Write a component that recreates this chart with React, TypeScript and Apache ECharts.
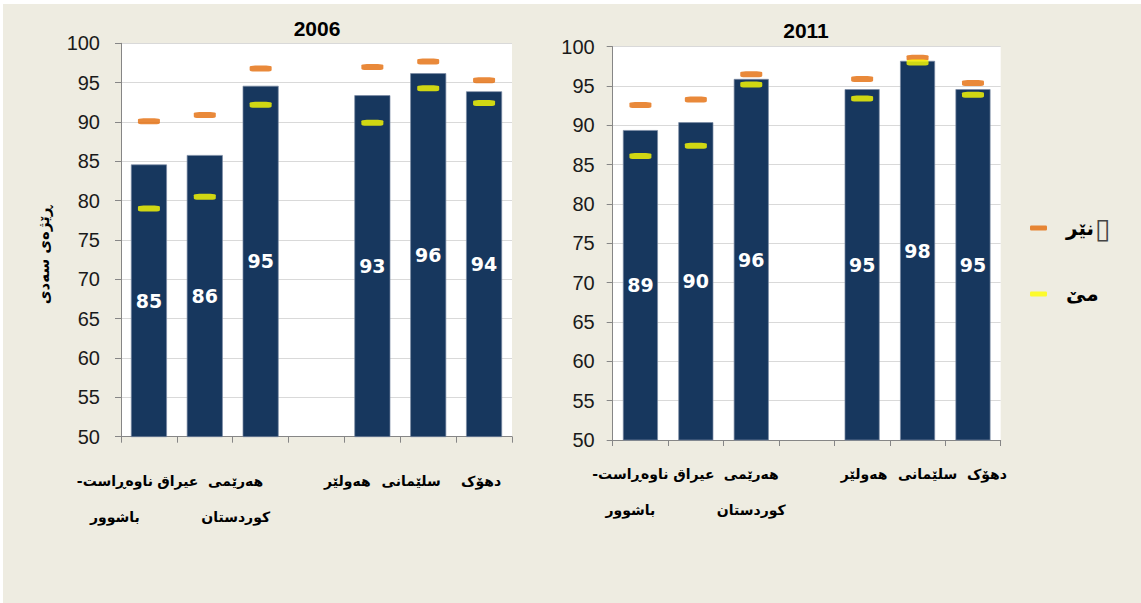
import React, { useEffect, useRef } from 'react';
import * as echarts from 'echarts';

const categories = ['ناوەڕاست-\u200F\nباشوور', 'عیراق', 'هەرێمی\nکوردستان', '', 'هەولێر', 'سلێمانی', 'دهۆک'];
const yearTitles = ['2006', '2011'];
const yAxisName = 'ڕێژەی سەدی';
const maleName = 'نێر▯';
const femaleName = 'مێ';

const total2006 = [84.6, 85.8, 94.6, null, 93.4, 96.2, 93.9];
const male2006 = [90.1, 90.9, 96.8, null, 97.0, 97.7, 95.3];
const female2006 = [79.0, 80.5, 92.2, null, 89.9, 94.3, 92.4];

const total2011 = [89.4, 90.4, 95.9, null, 94.6, 98.2, 94.6];
const male2011 = [92.6, 93.3, 96.5, null, 95.9, 98.6, 95.4];
const female2011 = [86.1, 87.4, 95.2, null, 93.4, 98.0, 93.9];

// horizontal nudges of the category labels (px), as drawn in the reference
const labelShift2006 = [-34, -27, -25, 0, -25, -17, -3];
const labelShift2011 = [-10, -2, 0, 0, 2, 10, 14];

export default function App() {
  const ref = useRef<HTMLDivElement>(null);
  useEffect(() => {
    const chart = echarts.init(ref.current!, null, { renderer: 'svg' });
    const axisColor = '#868686';
    const arabicFont = 'DejaVu Sans';
    const catFont = 14;
    const mkX = (idx: number, margin: number, shifts: number[]) => {
      const rich: Record<string, any> = {};
      shifts.forEach((s, i) => {
        rich['s' + i] = {
          fontFamily: arabicFont,
          fontWeight: 'bold',
          fontSize: catFont,
          lineHeight: 36,
          color: '#000',
          padding: s < 0 ? [0, -2 * s, 0, 0] : [0, 0, 0, 2 * s],
        };
      });
      return {
        type: 'category',
        gridIndex: idx,
        data: categories,
        axisLine: { lineStyle: { color: axisColor } },
        axisTick: { show: true, length: 6, lineStyle: { color: axisColor } },
        axisLabel: {
          interval: 0,
          margin,
          fontFamily: arabicFont,
          fontWeight: 'bold',
          fontSize: catFont,
          lineHeight: 36,
          color: '#000',
          formatter: (value: string, index: number) =>
            value ? value.split('\n').map((l) => `{s${index}|${l}}`).join('\n') : '',
          rich,
        },
      };
    };
    const mkY = (idx: number, margin: number, name: string) => ({
      type: 'value',
      gridIndex: idx,
      min: 50,
      max: 100,
      interval: 5,
      axisLine: { show: true, lineStyle: { color: axisColor } },
      axisTick: { show: true, length: 6, lineStyle: { color: axisColor } },
      splitLine: { lineStyle: { color: '#D9D9D9' } },
      axisLabel: { margin, fontFamily: 'Liberation Sans', fontSize: 20, color: '#1a1a1a' },
      name,
      nameLocation: 'middle',
      nameGap: 70,
      nameRotate: 90,
      nameTextStyle: {
        fontFamily: arabicFont,
        fontWeight: 'bold',
        fontSize: 15,
        color: '#000',
        padding: [0, 30, 0, 0],
      },
    });
    const mkSeries = (
      idx: number,
      total: (number | null)[],
      male: (number | null)[],
      female: (number | null)[],
      bw: number
    ) => [
      {
        type: 'bar',
        xAxisIndex: idx,
        yAxisIndex: idx,
        data: total.map((v) => (v == null ? '-' : v)),
        barWidth: bw,
        itemStyle: { color: '#17375E', borderColor: '#7a8aa3', borderWidth: 0.7 },
        label: {
          show: true,
          position: 'inside',
          formatter: (p: any) => String(Math.round(p.value)),
          color: '#fff',
          fontFamily: 'DejaVu Sans',
          fontWeight: 'bold',
          fontSize: 19,
        },
      },
      {
        type: 'scatter',
        name: maleName,
        xAxisIndex: idx,
        yAxisIndex: idx,
        data: male.map((v) => (v == null ? '-' : v)),
        symbol: 'roundRect',
        symbolSize: [22, 6],
        itemStyle: { color: '#E36C09' },
        z: 3,
      },
      {
        type: 'scatter',
        name: femaleName,
        xAxisIndex: idx,
        yAxisIndex: idx,
        data: female.map((v) => (v == null ? '-' : v)),
        symbol: 'roundRect',
        symbolSize: [22, 6],
        itemStyle: { color: '#FFFF00' },
        z: 4,
      },
    ];
    const titleStyle = { fontFamily: 'Liberation Sans', fontWeight: 'bold', fontSize: 21, color: '#000' };
    const legendText = {
      fontFamily: arabicFont,
      fontWeight: 'bold',
      fontSize: 20,
      lineHeight: 24,
      color: '#000',
    };
    chart.setOption({
      animation: false,
      backgroundColor: '#fff',
      graphic: [
        {
          type: 'rect',
          shape: { x: 3, y: 4, width: 1138, height: 599 },
          style: { fill: '#EEECE1' },
          z: -100,
          silent: true,
        },
      ],
      title: [
        { text: yearTitles[0], left: 312, top: 13, textAlign: 'center', textStyle: titleStyle },
        { text: yearTitles[1], left: 801, top: 15, textAlign: 'center', textStyle: titleStyle },
      ],
      legend: {
        orient: 'vertical',
        left: 1025,
        top: 209,
        itemWidth: 17,
        itemHeight: 5,
        itemGap: 40,
        data: [
          { name: maleName, icon: 'roundRect' },
          { name: femaleName, icon: 'roundRect' },
        ],
        formatter: (name: string) =>
          name.endsWith('▯') ? `{t|${name.slice(0, -1)}}{box|▯}` : `{t|${name}}`,
        textStyle: {
          ...legendText,
          padding: [0, 0, 0, 14],
          rich: {
            t: legendText,
            box: { fontFamily: 'DejaVu Sans', fontSize: 28, lineHeight: 24, color: '#444', padding: [0, 0, 0, 1] },
          },
        },
      },
      grid: [
        { left: 121, top: 43.3, width: 391, height: 393.4, show: true, backgroundColor: '#fff', borderWidth: 0 },
        { left: 612.7, top: 46.7, width: 388, height: 393.3, show: true, backgroundColor: '#fff', borderWidth: 0 },
      ],
      xAxis: [mkX(0, 26, labelShift2006), mkX(1, 16, labelShift2011)],
      yAxis: [mkY(0, 21, yAxisName), mkY(1, 18, '')],
      series: [
        ...mkSeries(0, total2006, male2006, female2006, 36),
        ...mkSeries(1, total2011, male2011, female2011, 35),
      ],
    });
    return () => chart.dispose();
  }, []);
  return <div ref={ref} style={{ position: 'absolute', left: 0, top: 0, width: 1141, height: 603 }} />;
}
